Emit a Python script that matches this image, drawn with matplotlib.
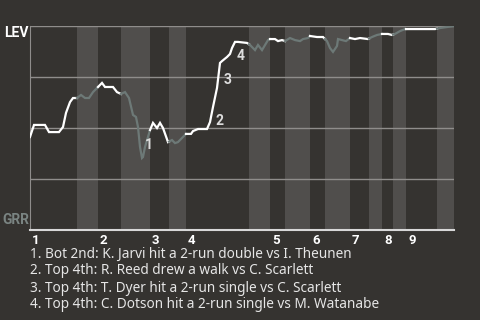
import matplotlib.pyplot as plt
import numpy as np

# win probability for LEV (%) by game progress (plate appearances)
pa = [0, 0.8, 3, 3.8, 5.8, 6.6, 7.2, 8, 8.6, 9.4, 10.2, 11, 11.8, 12.6, 13.6, 14.4, 15, 16.6,
      17.4, 18.2, 19, 19.8, 20.6, 21.2, 21.6, 22, 22.4, 22.6, 23, 23.6, 24, 24.6, 25.4, 26, 26.6,
      27.6, 28.4, 29, 29.6, 30.4, 31.2, 32.2, 32.6, 33.6, 35.4, 36, 36.6, 37.4, 38, 38.4, 39.4,
      40, 40.4, 41, 41.6, 43.4, 44, 45, 45.6, 46.4, 47.6, 48, 49, 49.6, 50.4, 51, 52, 53, 54,
      54.6, 55.6, 56, 57.4, 58.6, 59.4, 60, 60.6, 61.4, 61.6, 62.4, 63.2, 64, 65, 66, 67.6,
      68.4, 69.4, 70.4, 71.6, 72.4, 73, 74, 75, 76.6, 79.4, 81, 82, 83.4, 84.8]
wp = [45.6, 51.5, 51.5, 48.0, 48.0, 50.5, 57.4, 62.7, 64.7, 64.7, 66.2, 64.7, 64.7, 67.6, 70.1,
      72.1, 70.1, 70.1, 67.6, 66.7, 67.6, 64.7, 56.4, 55.4, 50.5, 40.7, 35.3, 35.8, 40.7, 45.6,
      49.0, 52.5, 50.0, 52.5, 50.0, 43.1, 44.1, 42.6, 43.1, 45.1, 47.1, 47.1, 48.5, 49.5, 49.5,
      52.9, 60.3, 69.6, 81.9, 82.8, 84.8, 86.3, 89.2, 92.2, 92.2, 91.7, 90.7, 88.2, 90.7, 88.2,
      93.1, 93.6, 93.6, 92.6, 93.1, 92.6, 94.1, 93.1, 92.6, 93.6, 94.1, 95.1, 94.6, 94.6, 92.6,
      89.2, 87.3, 90.2, 93.6, 93.1, 92.6, 94.1, 93.6, 94.1, 93.6, 94.6, 95.6, 96.1, 96.1, 95.6,
      96.1, 97.5, 98.5, 98.5, 98.5, 98.5, 99.0, 99.5, 100.0]

# half-inning starts (top 1st, bottom 1st, ...)
half_starts = [0, 9.4, 13.6, 18.2, 24, 27.8, 31.2, 43.8, 48, 51, 56, 59, 64, 67.8, 70.4,
               72.6, 75.2, 81.4]
x_end = 84.8
inning_labels = ["1", "2", "3", "4", "5", "6", "7", "8", "9"]

events = [
    "1. Bot 2nd: K. Jarvi hit a 2-run double vs I. Theunen",
    "2. Top 4th: R. Reed drew a walk vs C. Scarlett",
    "3. Top 4th: T. Dyer hit a 2-run single vs C. Scarlett",
    "4. Top 4th: C. Dotson hit a 2-run single vs M. Watanabe",
]
event_x = [23.0, 37.2, 38.8, 41.4]
event_y = [41.5, 53.5, 73.5, 85.5]

bg = "#353330"
band = "#504e4c"
white = "#ffffff"
gray = "#6d7977"
bold_font = ['Roboto', 'DejaVu Sans']

plt.rcParams['font.family'] = ['Noto Sans', 'DejaVu Sans']

fig = plt.figure(figsize=(4.8, 3.2), dpi=100, facecolor=bg)
ax = fig.add_axes([30 / 480, 1 - 230 / 320, 424 / 480, 204 / 320])
ax.set_facecolor(bg)
ax.set_xlim(0, x_end)
ax.set_ylim(0, 100)

bounds = half_starts + [x_end]
for i in range(1, len(half_starts), 2):
    ax.axvspan(bounds[i], bounds[i + 1], color=band, lw=0, zorder=0)

for y in [25, 50, 75, 100]:
    ax.axhline(y, color="#8f8d8b", lw=1, zorder=1)

# draw the line split at half-inning boundaries
xs = np.array(pa, dtype=float)
ys = np.array(wp, dtype=float)
for i in range(len(half_starts)):
    a, b = bounds[i], bounds[i + 1]
    mask = (xs > a) & (xs < b)
    sx = np.concatenate([[a], xs[mask], [b]])
    sy = np.interp(sx, xs, ys)
    ax.plot(sx, sy, color=white if i % 2 == 0 else gray, lw=1.6,
            solid_joinstyle="miter", zorder=3)

for n, (ex, ey) in enumerate(zip(event_x, event_y)):
    ax.text(ex, ey, str(n + 1), color="#dddddd", fontsize=10, fontweight="bold",
            family=bold_font, ha="left", va="center", zorder=4)

for s in ["top", "right"]:
    ax.spines[s].set_visible(False)
ax.spines["left"].set_color("#8f8d8b")
ax.spines["bottom"].set_color("#d8d8d8")
ax.spines["bottom"].set_linewidth(1.5)
ax.set_xticks([])
ax.set_yticks([])

for lab, x0 in zip(inning_labels, half_starts[::2]):
    ax.text(x0 + 0.4, -2.0, lab, color="white", fontsize=9.5, fontweight="bold",
            family=bold_font, ha="left", va="top", clip_on=False)

fig.text(4 / 480, 1 - 33 / 320, "LEV", color="white", fontsize=10, fontweight="bold",
         family=bold_font, ha="left", va="center")
fig.text(2 / 480, 1 - 220 / 320, "GRR", color="#7a8482", fontsize=10, fontweight="bold",
         family=bold_font, ha="left", va="center")

for k, line in enumerate(events):
    fig.text(30 / 480, 1 - (254 + 17 * k) / 320, line, color="#e6e6e6", fontsize=9.8,
             ha="left", va="center")

fig.savefig("out.png", dpi=100, facecolor=bg)
